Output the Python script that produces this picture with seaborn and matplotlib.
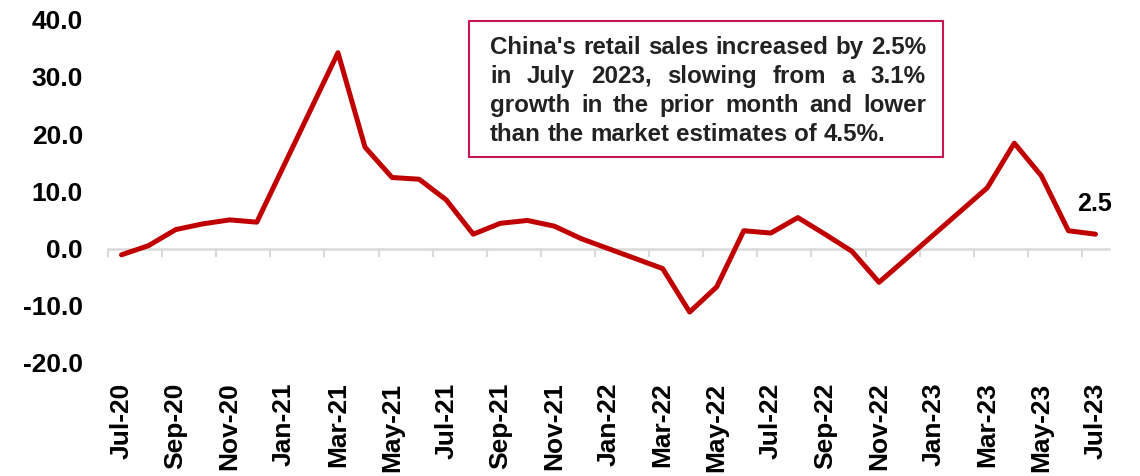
import numpy as np
import pandas as pd
import matplotlib
matplotlib.use("Agg")
import matplotlib.pyplot as plt
import seaborn as sns
from matplotlib.patches import Rectangle

months = ["Jul-20", "Aug-20", "Sep-20", "Oct-20", "Nov-20", "Dec-20",
          "Jan-21", "Feb-21", "Mar-21", "Apr-21", "May-21", "Jun-21",
          "Jul-21", "Aug-21", "Sep-21", "Oct-21", "Nov-21", "Dec-21",
          "Jan-22", "Feb-22", "Mar-22", "Apr-22", "May-22", "Jun-22",
          "Jul-22", "Aug-22", "Sep-22", "Oct-22", "Nov-22", "Dec-22",
          "Jan-23", "Feb-23", "Mar-23", "Apr-23", "May-23", "Jun-23",
          "Jul-23"]
nan = np.nan
retail_yoy = [-1.1, 0.5, 3.3, 4.3, 5.0, 4.6,
              nan, nan, 34.2, 17.7, 12.4, 12.1,
              8.5, 2.5, 4.4, 4.9, 3.9, 1.7,
              nan, nan, -3.5, -11.1, -6.7, 3.1,
              2.7, 5.4, 2.5, -0.5, -5.9, -1.8,
              nan, nan, 10.6, 18.4, 12.7, 3.1,
              2.5]
y_ticks = [-20, -10, 0, 10, 20, 30, 40]
box_lines = ["China's retail sales increased by 2.5%",
             "in July 2023, slowing from a 3.1%",
             "growth in the prior month and lower",
             "than the market estimates of 4.5%."]

sns.set_theme(style="white")
plt.rcParams['font.family'] = ['Liberation Sans', 'DejaVu Sans']

W_PX, H_PX = 1140, 476
fig = plt.figure(figsize=(W_PX / 100, H_PX / 100), dpi=100)
ax = fig.add_axes([108 / W_PX, 1 - 363 / H_PX, (1109 - 108) / W_PX, (363 - 19.5) / H_PX])

df = pd.DataFrame({"pos": np.arange(len(months)), "month": months, "value": retail_yoy})
df_plot = df.dropna()
sns.lineplot(data=df_plot, x="pos", y="value", ax=ax, color="#C00000", linewidth=3.6,
             solid_joinstyle="round", zorder=3)

ymin, ymax = y_ticks[0], y_ticks[-1]
ax.set_xlim(-0.5, len(months) - 0.5)
ax.set_ylim(ymin, ymax)
ax.set_yticks(y_ticks)
ax.set_yticklabels([f"{v:.1f}" for v in y_ticks], fontsize=19, fontweight="bold", color="black")
lab_pos = list(range(0, len(months), 2))
ax.set_xticks(lab_pos)
ax.set_xticklabels([months[i] for i in lab_pos], rotation=90, fontsize=19,
                   fontweight="bold", color="black", ha="center", va="top")
ax.tick_params(axis="y", length=0, pad=18)
ax.tick_params(axis="x", length=0, pad=14)
ax.set_xlabel("")
ax.set_ylabel("")
for s in ax.spines.values():
    s.set_visible(False)
ax.grid(False)

# category axis line at y = 0 with boundary tick marks
sec = ax.secondary_xaxis((0 - ymin) / (ymax - ymin))
sec.set_xticks(np.arange(-0.5, len(months) - 1, 2))
sec.set_xticklabels([])
sec.tick_params(axis="x", direction="out", length=6, width=1.5, color="#D9D9D9")
for name, s in sec.spines.items():
    if name == "bottom":
        s.set_color("#D9D9D9")
        s.set_linewidth(1.8)
    else:
        s.set_visible(False)

# last value label
last = df_plot.iloc[-1]
ax.annotate(f"{last['value']:.1f}", xy=(last["pos"], last["value"]), xytext=(-1, 17),
            textcoords="offset points", ha="center", va="baseline",
            fontsize=18, fontweight="bold", color="black")

# annotation box
fig.patches.append(Rectangle((469 / W_PX, 1 - 157 / H_PX), (943 - 469) / W_PX, (157 - 21) / H_PX,
                             transform=fig.transFigure, facecolor="white",
                             edgecolor="#C8174F", linewidth=1.5, zorder=5))
fig.canvas.draw()
renderer = fig.canvas.get_renderer()
left_px, right_px = 490, 926
baselines = [54, 83, 112, 141]
fs = 17.4
space_px = fs * 100 / 72 * 0.278
for i, line in enumerate(box_lines):
    words = line.split()
    texts = [fig.text(0, 1 - baselines[i] / H_PX, w, fontsize=fs, fontweight="bold",
                      color="#222222", ha="left", va="baseline", zorder=6) for w in words]
    widths = [t.get_window_extent(renderer).width for t in texts]
    if i < len(box_lines) - 1 and len(words) > 1:
        gap = (right_px - left_px - sum(widths)) / (len(words) - 1)
    else:
        gap = space_px
    x = left_px
    for t, w in zip(texts, widths):
        t.set_x(x / W_PX)
        x += w + gap

fig.savefig("out.png", dpi=100)
